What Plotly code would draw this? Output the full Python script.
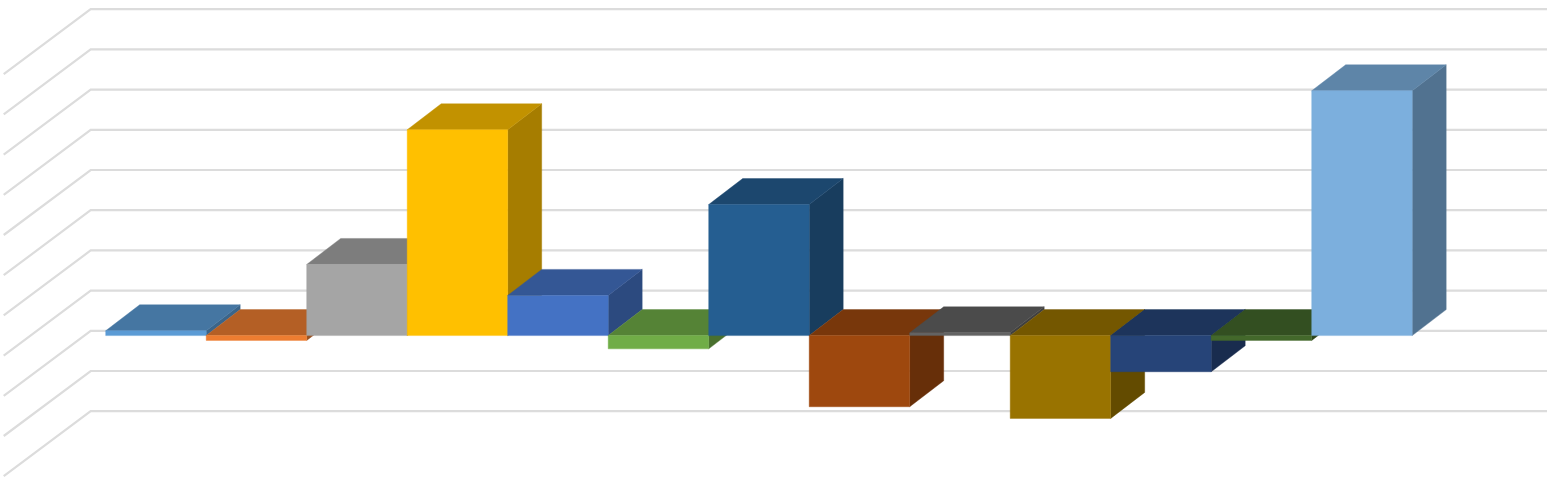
import plotly.graph_objects as go

# Column values, in gridline units (one gridline step = 1)
values = [0.12, -0.12, 1.77, 5.12, 1.0, -0.33, 3.26, -1.77, 0.07, -2.06, -0.9, -0.12, 6.09]
colors = ["#5B9BD5", "#ED7D31", "#A5A5A5", "#FFC000", "#4472C4", "#70AD47", "#255E91",
          "#9E480E", "#636363", "#997300", "#264478", "#43682B", "#7CAFDD"]
grid_levels = [-3, -2, -1, 0, 1, 2, 3, 4, 5, 6, 7]

W, H = 1557, 480
PX_X, PX_Y = 100.5, 40.2      # pixels per category, per value unit
X0, Y0 = 105.7, 335.6         # pixel of first column's left edge, of the zero line
DEPTH_X = 34 / PX_X           # oblique offset of a column's depth
DEPTH_Y = 26 / PX_Y
WALL_BACK_X = -15 / PX_X      # back-wall left corner relative to first column
WALL_BACK_Y = 45 / PX_Y       # back-wall rise relative to the column front
WALL_FRONT_X = -102 / PX_X    # side-wall front end
WALL_FRONT_Y = -20 / PX_Y
WALL_RIGHT = (1547 - X0) / PX_X


def shade(hex_color, k):
    r, g, b = (int(hex_color[i:i + 2], 16) for i in (1, 3, 5))
    return f"rgb({round(r * k)},{round(g * k)},{round(b * k)})"


def poly(xs, ys, color):
    return go.Scatter(x=xs + xs[:1], y=ys + ys[:1], mode="lines", fill="toself",
                      fillcolor=color, line=dict(color=color, width=0.4),
                      hoverinfo="skip", showlegend=False)


fig = go.Figure()

for k in grid_levels:
    fig.add_trace(go.Scatter(
        x=[WALL_FRONT_X, WALL_BACK_X, WALL_RIGHT],
        y=[k + WALL_FRONT_Y, k + WALL_BACK_Y, k + WALL_BACK_Y],
        mode="lines", line=dict(color="#DCDCDC", width=2.2),
        hoverinfo="skip", showlegend=False))

for i, (v, c) in enumerate(zip(values, colors)):
    lo, hi = min(v, 0), max(v, 0)
    l, r = i, i + 1
    # side face
    fig.add_trace(poly([r, r + DEPTH_X, r + DEPTH_X, r],
                       [lo, lo + DEPTH_Y, hi + DEPTH_Y, hi], shade(c, 0.65)))
    # top face
    fig.add_trace(poly([l, r, r + DEPTH_X, l + DEPTH_X],
                       [hi, hi, hi + DEPTH_Y, hi + DEPTH_Y], shade(c, 0.76)))
    # front face
    fig.add_trace(poly([l, r, r, l], [lo, lo, hi, hi], c))

axis = dict(visible=False, showgrid=False, zeroline=False, fixedrange=True)
fig.update_layout(
    width=W, height=H, margin=dict(l=0, r=0, t=0, b=0, pad=0),
    paper_bgcolor="white", plot_bgcolor="white", showlegend=False,
    xaxis=dict(axis, range=[-X0 / PX_X, (W - X0) / PX_X]),
    yaxis=dict(axis, range=[(Y0 - H) / PX_Y, Y0 / PX_Y]),
)
fig.write_html("out.html", config=dict(displayModeBar=False),
               post_script="document.body.style.margin='0';document.body.style.overflow='hidden';")
